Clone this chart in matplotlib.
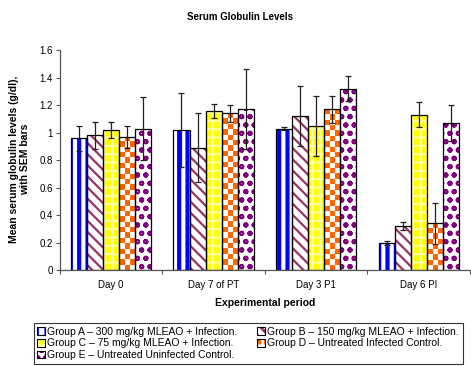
import numpy as np
import matplotlib.pyplot as plt
from matplotlib.patches import Patch
from matplotlib.colors import ListedColormap

plt.rcParams['font.family'] = ['Liberation Sans', 'DejaVu Sans']
plt.rcParams['hatch.linewidth'] = 2.0

## the data
periods = ['Day 0', 'Day 7 of PT', 'Day 3 P1', 'Day 6 PI']
group_names = ['Group A \u2013 300 mg/kg MLEAO + Infection.',
               'Group B \u2013 150 mg/kg MLEAO + Infection.',
               'Group C \u2013 75 mg/kg MLEAO + Infection.',
               'Group D \u2013 Untreated Infected Control.',
               'Group E \u2013 Untreated Uninfected Control.']
grp_a = [0.96, 1.02, 1.03, 0.20]
grp_b = [0.98, 0.89, 1.12, 0.32]
grp_c = [1.02, 1.16, 1.05, 1.13]
grp_d = [0.97, 1.14, 1.17, 0.34]
grp_e = [1.03, 1.17, 1.32, 1.07]
sem_a = [0.09, 0.27, 0.01, 0.015]
sem_b = [0.10, 0.25, 0.22, 0.03]
sem_c = [0.06, 0.05, 0.22, 0.09]
sem_d = [0.08, 0.06, 0.10, 0.15]
sem_e = [0.23, 0.29, 0.09, 0.13]

means = [grp_a, grp_b, grp_c, grp_d, grp_e]
sems = [sem_a, sem_b, sem_c, sem_d, sem_e]

# face colour, hatch, hatch colour, hatch linewidth
styles = [('white', '||', '#0000FF', 3.0),
          ('white', '\\\\\\', '#993366', 1.6),
          ('#FFFF00', '++', '#FFFFA8', 1.5),
          ('#FF6600', '++', 'white', 2.6),
          ('white', 'oo', '#800080', 1.4)]

fig = plt.figure(figsize=(4.71, 3.66), dpi=100)
ax = fig.add_axes([0.127, 0.262, 0.871, 0.601])

ind = np.arange(len(periods))
width = 0.157
checker = ListedColormap(['white', '#FF6600'])
handles = []
for i in range(5):
    face, hatch, hcol, hlw = styles[i]
    pos = ind + (i - 2) * width
    if i == 3:
        # group D: orange / white checkerboard clipped to each bar
        bars = ax.bar(pos, means[i], width, color='white', linewidth=0)
        for b, x, h in zip(bars, pos, means[i]):
            nrows = max(1, int(round(h * 137.5 / 5.4)))
            board = (np.add.outer(np.arange(nrows), np.arange(3)) % 2)
            im = ax.imshow(board, cmap=checker, interpolation='nearest',
                           extent=(x - width / 2, x + width / 2, 0, h),
                           origin='lower', aspect='auto', zorder=1.2)
            im.set_clip_path(b)
    else:
        bars = ax.bar(pos, means[i], width, color=face, edgecolor=hcol,
                      hatch=hatch, linewidth=0)
        for b in bars:
            if hasattr(b, 'set_hatch_linewidth'):
                b.set_hatch_linewidth(hlw)
    ax.bar(pos, means[i], width, facecolor='none', edgecolor='black',
           linewidth=0.9, zorder=2)
    ax.errorbar(pos, means[i], yerr=sems[i], fmt='none', ecolor='#202020',
                elinewidth=0.9, capsize=2, capthick=0.9, zorder=3)
    h1 = Patch(facecolor=face, edgecolor=hcol, hatch=hatch, linewidth=0)
    h2 = Patch(facecolor='none', edgecolor='black', linewidth=0.8)
    handles.append((h1, h2))

# axes and labels
ax.set_xlim(-0.5, 3.5)
ax.set_ylim(0, 1.6)
yt = np.arange(0, 1.61, 0.2)
ax.set_yticks(yt)
ax.set_yticklabels(['0', '0.2', '0.4', '0.6', '0.8', '1', '1.2', '1.4', '1.6'],
                   fontsize=7)
ax.set_xticks(ind)
ax.set_xticklabels(periods, fontsize=7)
ax.set_xticks(np.arange(-0.5, 3.6, 1), minor=True)
ax.tick_params(axis='x', which='major', length=0, pad=7)
ax.tick_params(axis='x', which='minor', length=3, width=0.8, color='#555555')
ax.tick_params(axis='y', length=3, width=0.8, color='#555555', pad=2)
for s in ['top', 'right']:
    ax.spines[s].set_visible(False)
for s in ['left', 'bottom']:
    ax.spines[s].set_color('#555555')
    ax.spines[s].set_linewidth(0.9)

ax.set_xlabel('Experimental period', fontsize=7.5, fontweight='bold', labelpad=6)
fig.text(0.042, 0.565, 'Mean serum globulin levels (g/dl),\nwith SEM bars',
         rotation=90, ha='center', va='center', fontsize=7.5,
         fontweight='bold', linespacing=1.1)
fig.text(0.51, 0.953, 'Serum Globulin Levels', ha='center', va='center',
         fontsize=7, fontweight='bold')

## add a legend (row-wise order A B / C D / E)
order = [0, 2, 4, 1, 3]
leg = fig.legend([handles[k] for k in order], [group_names[k] for k in order],
                 loc='upper center', bbox_to_anchor=(0.527, 0.117), ncol=2,
                 fontsize=7.5, frameon=True, fancybox=False, edgecolor='black',
                 handlelength=0.75, handleheight=0.75, handletextpad=0.2,
                 labelspacing=0.15, columnspacing=1.9, borderpad=0.35,
                 borderaxespad=0)
leg.get_frame().set_linewidth(0.8)

fig.savefig('out.png', dpi=100)
